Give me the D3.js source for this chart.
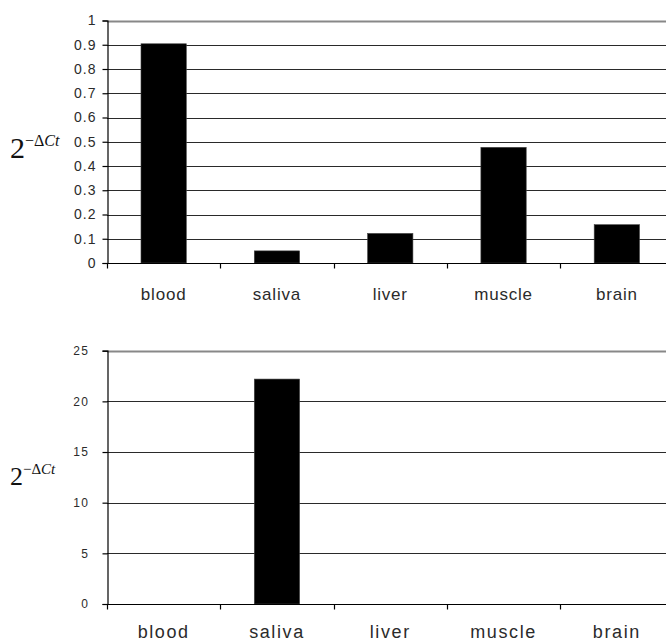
<!DOCTYPE html>
<html>
<head>
<meta charset="utf-8">
<script src="https://cdn.jsdelivr.net/npm/d3@7"></script>
<style>
  html, body { margin: 0; padding: 0; background: #fff; }
  svg { display: block; }
</style>
</head>
<body>
<svg id="chart" width="666" height="642"></svg>
<script>
// Tissue categories shared by both panels
const categories = ["blood", "saliva", "liver", "muscle", "brain"];

// Relative expression (2^-ΔCt) per tissue, upper panel
const upperValues = [0.904, 0.05, 0.122, 0.477, 0.158];
const upperTicks = [0, 0.1, 0.2, 0.3, 0.4, 0.5, 0.6, 0.7, 0.8, 0.9, 1];

// Relative expression (2^-ΔCt) per tissue, lower panel
const lowerValues = [0, 22.2, 0, 0, 0];
const lowerTicks = [0, 5, 10, 15, 20, 25];

const svg = d3.select("#chart");

function drawPanel(cfg) {
  const g = svg.append("g");
  const x = d3.scaleBand().domain(categories).range([107, 673.5]).paddingInner(0).paddingOuter(0);
  const y = d3.scaleLinear().domain(cfg.domain).range([cfg.bottom, cfg.top]);

  // horizontal gridlines
  g.selectAll("line.grid").data(cfg.ticks).enter().append("line")
    .attr("class", "grid")
    .attr("x1", 107).attr("x2", 673.5)
    .attr("y1", d => Math.round(y(d)) + 0.5).attr("y2", d => Math.round(y(d)) + 0.5)
    .attr("stroke", (d, i) => i === cfg.ticks.length - 1 ? "#888" : "#2a2a2a")
    .attr("stroke-width", (d, i) => i === cfg.ticks.length - 1 ? 2 : 1.2);

  // bars
  const bw = x.bandwidth() / 2.5;
  g.selectAll("rect.bar").data(cfg.values).enter().append("rect")
    .attr("class", "bar")
    .attr("x", (d, i) => x(categories[i]) + (x.bandwidth() - bw) / 2)
    .attr("width", bw)
    .attr("y", d => y(d))
    .attr("height", d => y(0) - y(d))
    .attr("fill", "#000")
    .attr("stroke", "#444")
    .attr("stroke-width", 0.6);

  // y axis
  const yAxis = d3.axisLeft(y).tickValues(cfg.ticks).tickSize(5).tickPadding(cfg.tickPad)
    .tickFormat(d => String(d));
  const ya = g.append("g").attr("transform", "translate(107.5,0)").call(yAxis);
  ya.select(".domain").attr("stroke", "#000").attr("stroke-width", 1.2);
  ya.selectAll(".tick line").attr("stroke", "#000").attr("stroke-width", 1.2);
  ya.selectAll(".tick text")
    .attr("font-family", "'Liberation Sans', Arial, sans-serif")
    .attr("font-size", cfg.tickFont)
    .attr("letter-spacing", cfg.tickSpacing)
    .attr("fill", "#2b2b2b");

  // x axis with ticks between categories
  const xa = g.append("g").attr("transform", `translate(0,${Math.round(y(0)) + 0.5})`);
  xa.append("line").attr("x1", 107).attr("x2", 673.5).attr("stroke", "#000").attr("stroke-width", 1.2);
  const boundaries = categories.map(c => x(c));
  xa.selectAll("line.xt").data(boundaries).enter().append("line")
    .attr("class", "xt")
    .attr("x1", d => Math.round(d) + 0.5).attr("x2", d => Math.round(d) + 0.5)
    .attr("y1", 0).attr("y2", 5)
    .attr("stroke", "#000").attr("stroke-width", 1.2);
  xa.selectAll("text").data(categories).enter().append("text")
    .attr("x", d => x(d) + x.bandwidth() / 2)
    .attr("y", cfg.labelDy)
    .attr("text-anchor", "middle")
    .attr("font-family", "'Liberation Sans', Arial, sans-serif")
    .attr("font-size", cfg.labelFont)
    .attr("letter-spacing", cfg.labelSpacing)
    .attr("fill", "#2b2b2b")
    .text(d => d);

  // y-axis title: 2^-ΔCt
  const t = g.append("text")
    .attr("x", 10)
    .attr("y", cfg.titleY)
    .attr("font-family", "'Liberation Serif', 'Times New Roman', serif")
    .attr("font-size", cfg.titleFont)
    .attr("fill", "#111");
  t.append("tspan").text("2");
  t.append("tspan").attr("font-size", cfg.supFont).attr("dy", -cfg.supRise).text("\u2212\u0394");
  t.append("tspan").attr("font-size", cfg.supFont).attr("font-style", "italic").text("Ct");
}

drawPanel({
  values: upperValues, ticks: upperTicks, domain: [0, 1],
  top: 20.5, bottom: 263,
  tickFont: 14, tickSpacing: 1, tickPad: 6,
  labelFont: 17, labelSpacing: 0.8, labelDy: 36,
  titleY: 158, titleFont: 30, supFont: 16, supRise: 12
});

drawPanel({
  values: lowerValues, ticks: lowerTicks, domain: [0, 25],
  top: 350.7, bottom: 604,
  tickFont: 12, tickSpacing: 1.5, tickPad: 13,
  labelFont: 18, labelSpacing: 1.6, labelDy: 33,
  titleY: 485, titleFont: 26, supFont: 15, supRise: 11
});
</script>
</body>
</html>
